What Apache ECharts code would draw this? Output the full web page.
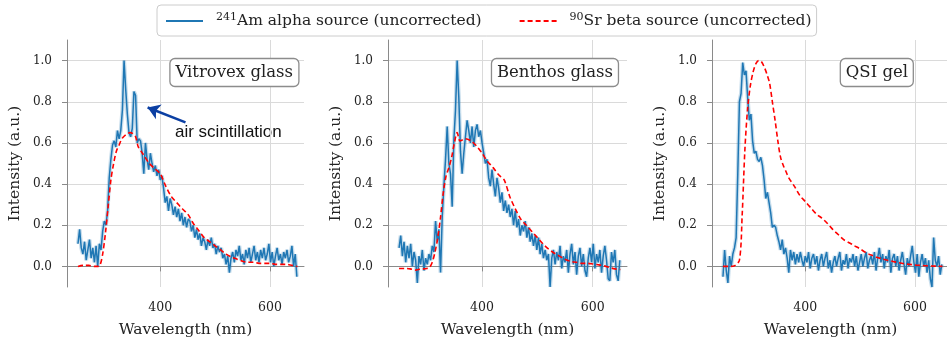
<!DOCTYPE html>
<html>
<head>
<meta charset="utf-8">
<script src="https://cdn.jsdelivr.net/npm/echarts@6/dist/echarts.min.js"></script>
<style>
  html, body { margin: 0; padding: 0; background: #fff; }
  #chart { width: 947px; height: 339px; }
</style>
</head>
<body>
<div id="chart"></div>
<script>
// wavelength grid of the 241Am spectra (nm)
const wavelength = [
  250, 253, 256, 259, 262, 265, 268, 271, 274, 277,
  280, 283, 286, 289, 292, 295, 298, 301, 304, 307,
  310, 313, 316, 319, 322, 325, 328, 331, 334, 337,
  340, 343, 346, 349, 352, 355, 358, 361, 364, 367,
  370, 373, 376, 379, 382, 385, 388, 391, 394, 397,
  400, 403, 406, 409, 412, 415, 418, 421, 424, 427,
  430, 433, 436, 439, 442, 445, 448, 451, 454, 457,
  460, 463, 466, 469, 472, 475, 478, 481, 484, 487,
  490, 493, 496, 499, 502, 505, 508, 511, 514, 517,
  520, 523, 526, 529, 532, 535, 538, 541, 544, 547,
  550, 553, 556, 559, 562, 565, 568, 571, 574, 577,
  580, 583, 586, 589, 592, 595, 598, 601, 604, 607,
  610, 613, 616, 619, 622, 625, 628, 631, 634, 637,
  640, 643, 646, 649
]

// 241Am alpha source, Vitrovex glass
const amVitrovex = [
  0.11, 0.18, 0.09, 0.06, 0.12, 0.03, 0.08, 0.13, 0.04, 0.09,
  0.02, 0.10, 0.00, 0.11, 0.08, 0.17, 0.22, 0.20, 0.27, 0.43,
  0.52, 0.59, 0.61, 0.58, 0.66, 0.62, 0.66, 0.76, 1.00, 0.86,
  0.74, 0.65, 0.63, 0.67, 0.85, 0.83, 0.60, 0.62, 0.61, 0.55,
  0.45, 0.60, 0.52, 0.47, 0.55, 0.50, 0.46, 0.49, 0.44, 0.47,
  0.42, 0.44, 0.38, 0.31, 0.34, 0.27, 0.33, 0.30, 0.25, 0.29,
  0.24, 0.28, 0.22, 0.26, 0.20, 0.24, 0.19, 0.23, 0.22, 0.17,
  0.20, 0.14, 0.18, 0.13, 0.16, 0.10, 0.14, 0.12, 0.08, 0.13,
  0.10, 0.14, 0.09, 0.11, 0.06, 0.10, 0.07, 0.09, 0.04, 0.06,
  0.01, 0.05, -0.03, 0.04, 0.07, 0.02, 0.08, 0.05, 0.10, 0.03,
  0.06, 0.01, 0.08, 0.04, 0.09, 0.02, 0.06, 0.10, 0.03, 0.07,
  0.02, 0.08, 0.04, 0.09, 0.03, 0.06, 0.11, 0.02, 0.07, 0.00,
  0.05, 0.09, 0.03, 0.06, 0.01, 0.07, 0.04, 0.08, 0.02, 0.05,
  0.10, 0.00, 0.06, -0.05
]

// 241Am alpha source, Benthos glass
const amBenthos = [
  0.09, 0.15, 0.05, 0.12, 0.02, 0.10, 0.04, 0.11, 0.00, 0.07,
  0.03, -0.08, 0.05, 0.01, 0.08, -0.02, 0.04, 0.01, 0.06, 0.03,
  0.10, 0.07, 0.22, 0.12, 0.18, -0.03, 0.24, 0.39, 0.52, 0.68,
  0.50, 0.45, 0.29, 0.61, 0.76, 1.00, 0.82, 0.56, 0.45, 0.55,
  0.63, 0.71, 0.66, 0.60, 0.68, 0.58, 0.66, 0.69, 0.63, 0.66,
  0.60, 0.55, 0.50, 0.52, 0.43, 0.39, 0.47, 0.40, 0.34, 0.43,
  0.38, 0.31, 0.36, 0.27, 0.32, 0.26, 0.30, 0.24, 0.28, 0.20,
  0.27, 0.19, 0.23, 0.15, 0.20, 0.17, 0.22, 0.14, 0.19, 0.12,
  0.16, 0.10, 0.15, 0.08, 0.14, 0.06, 0.11, 0.04, 0.08, 0.03,
  0.06, -0.10, 0.04, 0.08, 0.01, 0.07, 0.03, 0.10, -0.01, 0.05,
  0.02, 0.08, -0.03, 0.06, 0.11, 0.01, 0.07, -0.04, 0.05, 0.09,
  0.00, 0.06, -0.02, -0.05, 0.04, 0.09, 0.02, 0.11, -0.01, 0.06,
  0.02, 0.08, -0.03, 0.05, 0.10, 0.03, -0.06, -0.07, 0.07, 0.02,
  0.08, -0.04, -0.07, 0.03
]

// 241Am alpha source, QSI gel
const amQsi = [
  -0.05, 0.08, -0.02, -0.08, 0.05, 0.00, 0.06, 0.09, 0.14, 0.45,
  0.80, 0.84, 0.99, 0.93, 0.95, 0.82, 0.71, 0.74, 0.61, 0.55,
  0.56, 0.52, 0.51, 0.53, 0.49, 0.42, 0.33, 0.36, 0.31, 0.26,
  0.19, 0.20, 0.19, 0.15, 0.12, 0.08, 0.13, 0.06, 0.09, 0.04,
  -0.03, 0.08, 0.03, 0.07, 0.01, 0.06, 0.02, 0.07, 0.03, 0.00,
  0.05, 0.02, 0.07, -0.01, 0.04, 0.06, 0.01, 0.05, -0.02, 0.03,
  0.06, 0.00, 0.04, 0.07, -0.01, 0.03, -0.03, 0.02, 0.05, 0.00,
  0.04, 0.07, -0.02, 0.03, 0.01, 0.06, -0.01, 0.04, 0.02, 0.06,
  0.00, 0.05, -0.02, 0.02, 0.06, 0.00, 0.04, 0.07, -0.01, 0.03,
  0.05, 0.01, 0.07, -0.02, 0.04, 0.09, 0.02, 0.06, -0.01, 0.05,
  0.02, 0.08, -0.03, 0.04, 0.06, 0.00, 0.05, -0.02, 0.03, 0.07,
  0.01, -0.04, 0.04, 0.00, 0.05, 0.10, 0.02, -0.03, 0.06, -0.05,
  0.02, 0.06, 0.00, 0.04, -0.03, 0.03, -0.06, -0.10, 0.14, 0.03,
  0.00, 0.05, -0.04, 0.01
]

// wavelength grid of the 90Sr spectra (nm)
const srWavelength = [
  250, 260, 270, 280, 285, 290, 295, 300, 305, 310,
  315, 320, 325, 330, 335, 340, 345, 350, 355, 360,
  365, 370, 380, 390, 400, 410, 420, 430, 440, 450,
  460, 470, 480, 490, 500, 510, 520, 530, 540, 550,
  560, 570, 580, 590, 600, 610, 620, 630, 640, 650
]

const srVitrovex = [
  0.0, 0.005, 0.005, 0.0, 0.0, 0.005, 0.06, 0.16, 0.29, 0.42,
  0.50, 0.56, 0.59, 0.62, 0.635, 0.645, 0.65, 0.645, 0.63, 0.58,
  0.56, 0.54, 0.50, 0.475, 0.45, 0.39, 0.34, 0.31, 0.28, 0.255,
  0.21, 0.175, 0.14, 0.12, 0.10, 0.08, 0.06, 0.045, 0.035, 0.025,
  0.02, 0.02, 0.015, 0.015, 0.015, 0.01, 0.01, 0.01, 0.005, 0.0
]

const srBenthos = [
  -0.01, -0.01, -0.012, -0.018, -0.015, -0.012, -0.012, -0.01, -0.005, 0.02,
  0.07, 0.14, 0.24, 0.36, 0.44, 0.48, 0.53, 0.60, 0.65, 0.61,
  0.615, 0.62, 0.61, 0.585, 0.55, 0.51, 0.48, 0.445, 0.42, 0.34,
  0.28, 0.23, 0.20, 0.17, 0.14, 0.11, 0.085, 0.065, 0.05, 0.035,
  0.025, 0.02, 0.015, 0.015, 0.012, 0.008, 0.003, -0.005, -0.012, -0.015
]

const srQsi = [
  0.0, 0.0, 0.002, 0.03, 0.25, 0.57, 0.77, 0.88, 0.945, 0.985,
  1.0, 0.995, 0.97, 0.935, 0.89, 0.80, 0.71, 0.61, 0.53, 0.49,
  0.46, 0.43, 0.39, 0.345, 0.315, 0.285, 0.255, 0.235, 0.21, 0.18,
  0.155, 0.13, 0.115, 0.10, 0.085, 0.068, 0.055, 0.045, 0.037, 0.03,
  0.024, 0.018, 0.013, 0.01, 0.007, 0.005, 0.003, 0.002, 0.001, 0.0
]

const panelNames = ['Vitrovex glass', 'Benthos glass', 'QSI gel']
const amSpectra = [amVitrovex, amBenthos, amQsi]
const srSpectra = [srVitrovex, srBenthos, srQsi]
const xTicks = [400, 600]
const yTicks = [0, 0.2, 0.4, 0.6, 0.8, 1.0]
// arrow of the "air scintillation" note, in data coordinates of the first panel
const arrowFrom = [446, 0.70]
const arrowTo = [377, 0.772]

const serif = 'DejaVu Serif'
const blue = '#1f77b4'
const red = '#ff0000'
const axisGray = '#8a8a8a'
const gridGray = '#dadada'

const grids = [
  { left: 67, top: 40, width: 237, height: 247, outerBoundsMode: 'none' },
  { left: 388, top: 40, width: 239, height: 247, outerBoundsMode: 'none' },
  { left: 712, top: 40, width: 237, height: 247, outerBoundsMode: 'none' }
]
const boxRight = [648, 328, 33]

const chart = echarts.init(document.getElementById('chart'))

const xAxes = grids.map((g, i) => ({
  type: 'value',
  gridIndex: i,
  min: 230,
  max: 662,
  name: 'Wavelength (nm)',
  nameLocation: 'middle',
  nameGap: 35,
  nameTextStyle: { fontFamily: serif, fontSize: 15.5, color: '#222' },
  axisLine: { show: true, lineStyle: { color: axisGray, width: 1 } },
  axisTick: { show: true, length: 5, customValues: xTicks, lineStyle: { color: axisGray } },
  axisLabel: { customValues: xTicks, margin: 14, fontFamily: serif, fontSize: 12.5, color: '#222' },
  splitLine: { show: true, lineStyle: { color: gridGray, width: 1 } }
}))

const yAxes = grids.map((g, i) => ({
  type: 'value',
  gridIndex: i,
  min: -0.1,
  max: 1.1,
  name: 'Intensity (a.u.)',
  nameLocation: 'middle',
  nameGap: 44,
  nameTextStyle: { fontFamily: serif, fontSize: 15.5, color: '#222' },
  axisLine: { show: true, lineStyle: { color: axisGray, width: 1 } },
  axisTick: { show: true, length: 5, customValues: yTicks, lineStyle: { color: axisGray } },
  axisLabel: {
    customValues: yTicks,
    margin: 15,
    fontFamily: serif,
    fontSize: 12,
    color: '#222',
    formatter: v => v.toFixed(1)
  },
  splitLine: { show: true, lineStyle: { color: gridGray, width: 1 } }
}))

const series = []
grids.forEach((g, i) => {
  const amData = wavelength.map((w, k) => [w, amSpectra[i][k]])
  const srData = srWavelength.map((w, k) => [w, srSpectra[i][k]])
  // light band behind the alpha spectrum
  series.push({
    name: 'amBand',
    type: 'line',
    xAxisIndex: i,
    yAxisIndex: i,
    data: amData,
    symbol: 'none',
    silent: true,
    lineStyle: { color: blue, width: 4, opacity: 0.25 },
    z: 2
  })
  const am = {
    name: 'am',
    type: 'line',
    xAxisIndex: i,
    yAxisIndex: i,
    data: amData,
    symbol: 'none',
    lineStyle: { color: blue, width: 1.5 },
    itemStyle: { color: blue },
    z: 3
  }
  if (i === 0) {
    am.markLine = {
      silent: true,
      symbol: ['none', 'arrow'],
      symbolSize: 12,
      label: { show: false },
      lineStyle: { color: '#0b3fa3', width: 2.5, type: 'solid' },
      data: [[{ coord: arrowFrom }, { coord: arrowTo }]]
    }
  }
  series.push(am)
  series.push({
    name: 'sr',
    type: 'line',
    xAxisIndex: i,
    yAxisIndex: i,
    data: srData,
    symbol: 'none',
    smooth: 0.3,
    lineStyle: { color: red, width: 1.6, type: [5, 3] },
    itemStyle: { color: red },
    z: 4
  })
})

chart.setOption({
  animation: false,
  backgroundColor: '#fff',
  grid: grids,
  xAxis: xAxes,
  yAxis: yAxes,
  title: panelNames.map((t, i) => ({
    text: t,
    right: boxRight[i],
    top: 58,
    padding: [6, 6, 5, 6],
    backgroundColor: '#fff',
    borderColor: '#8c8c8c',
    borderWidth: 1.3,
    borderRadius: 5,
    textStyle: { fontFamily: serif, fontSize: 16.5, fontWeight: 'normal', color: '#222', lineHeight: 18 }
  })),
  legend: {
    left: 157,
    top: 5,
    padding: [7, 5, 7, 8],
    itemWidth: 37,
    itemHeight: 14,
    itemGap: 37,
    borderColor: '#cccccc',
    borderWidth: 1,
    borderRadius: 4,
    backgroundColor: '#fff',
    data: [
      { name: 'am', itemStyle: { opacity: 0 } },
      { name: 'sr', itemStyle: { opacity: 0 } }
    ],
    formatter: name => name === 'am'
      ? '{sup|241}{txt|Am alpha source (uncorrected)}'
      : '{sup|90}{txt|Sr beta source (uncorrected)}',
    textStyle: {
      padding: [0, 0, 0, 8],
      rich: {
        sup: { fontFamily: serif, fontSize: 11, color: '#222', verticalAlign: 'top', lineHeight: 18 },
        txt: { fontFamily: serif, fontSize: 15.5, color: '#222', lineHeight: 18 }
      }
    }
  },
  graphic: [{
    type: 'text',
    left: 175,
    top: 124,
    style: { text: 'air scintillation', font: '17px "Liberation Sans"', fill: '#111' }
  }],
  series: series
})
</script>
</body>
</html>
